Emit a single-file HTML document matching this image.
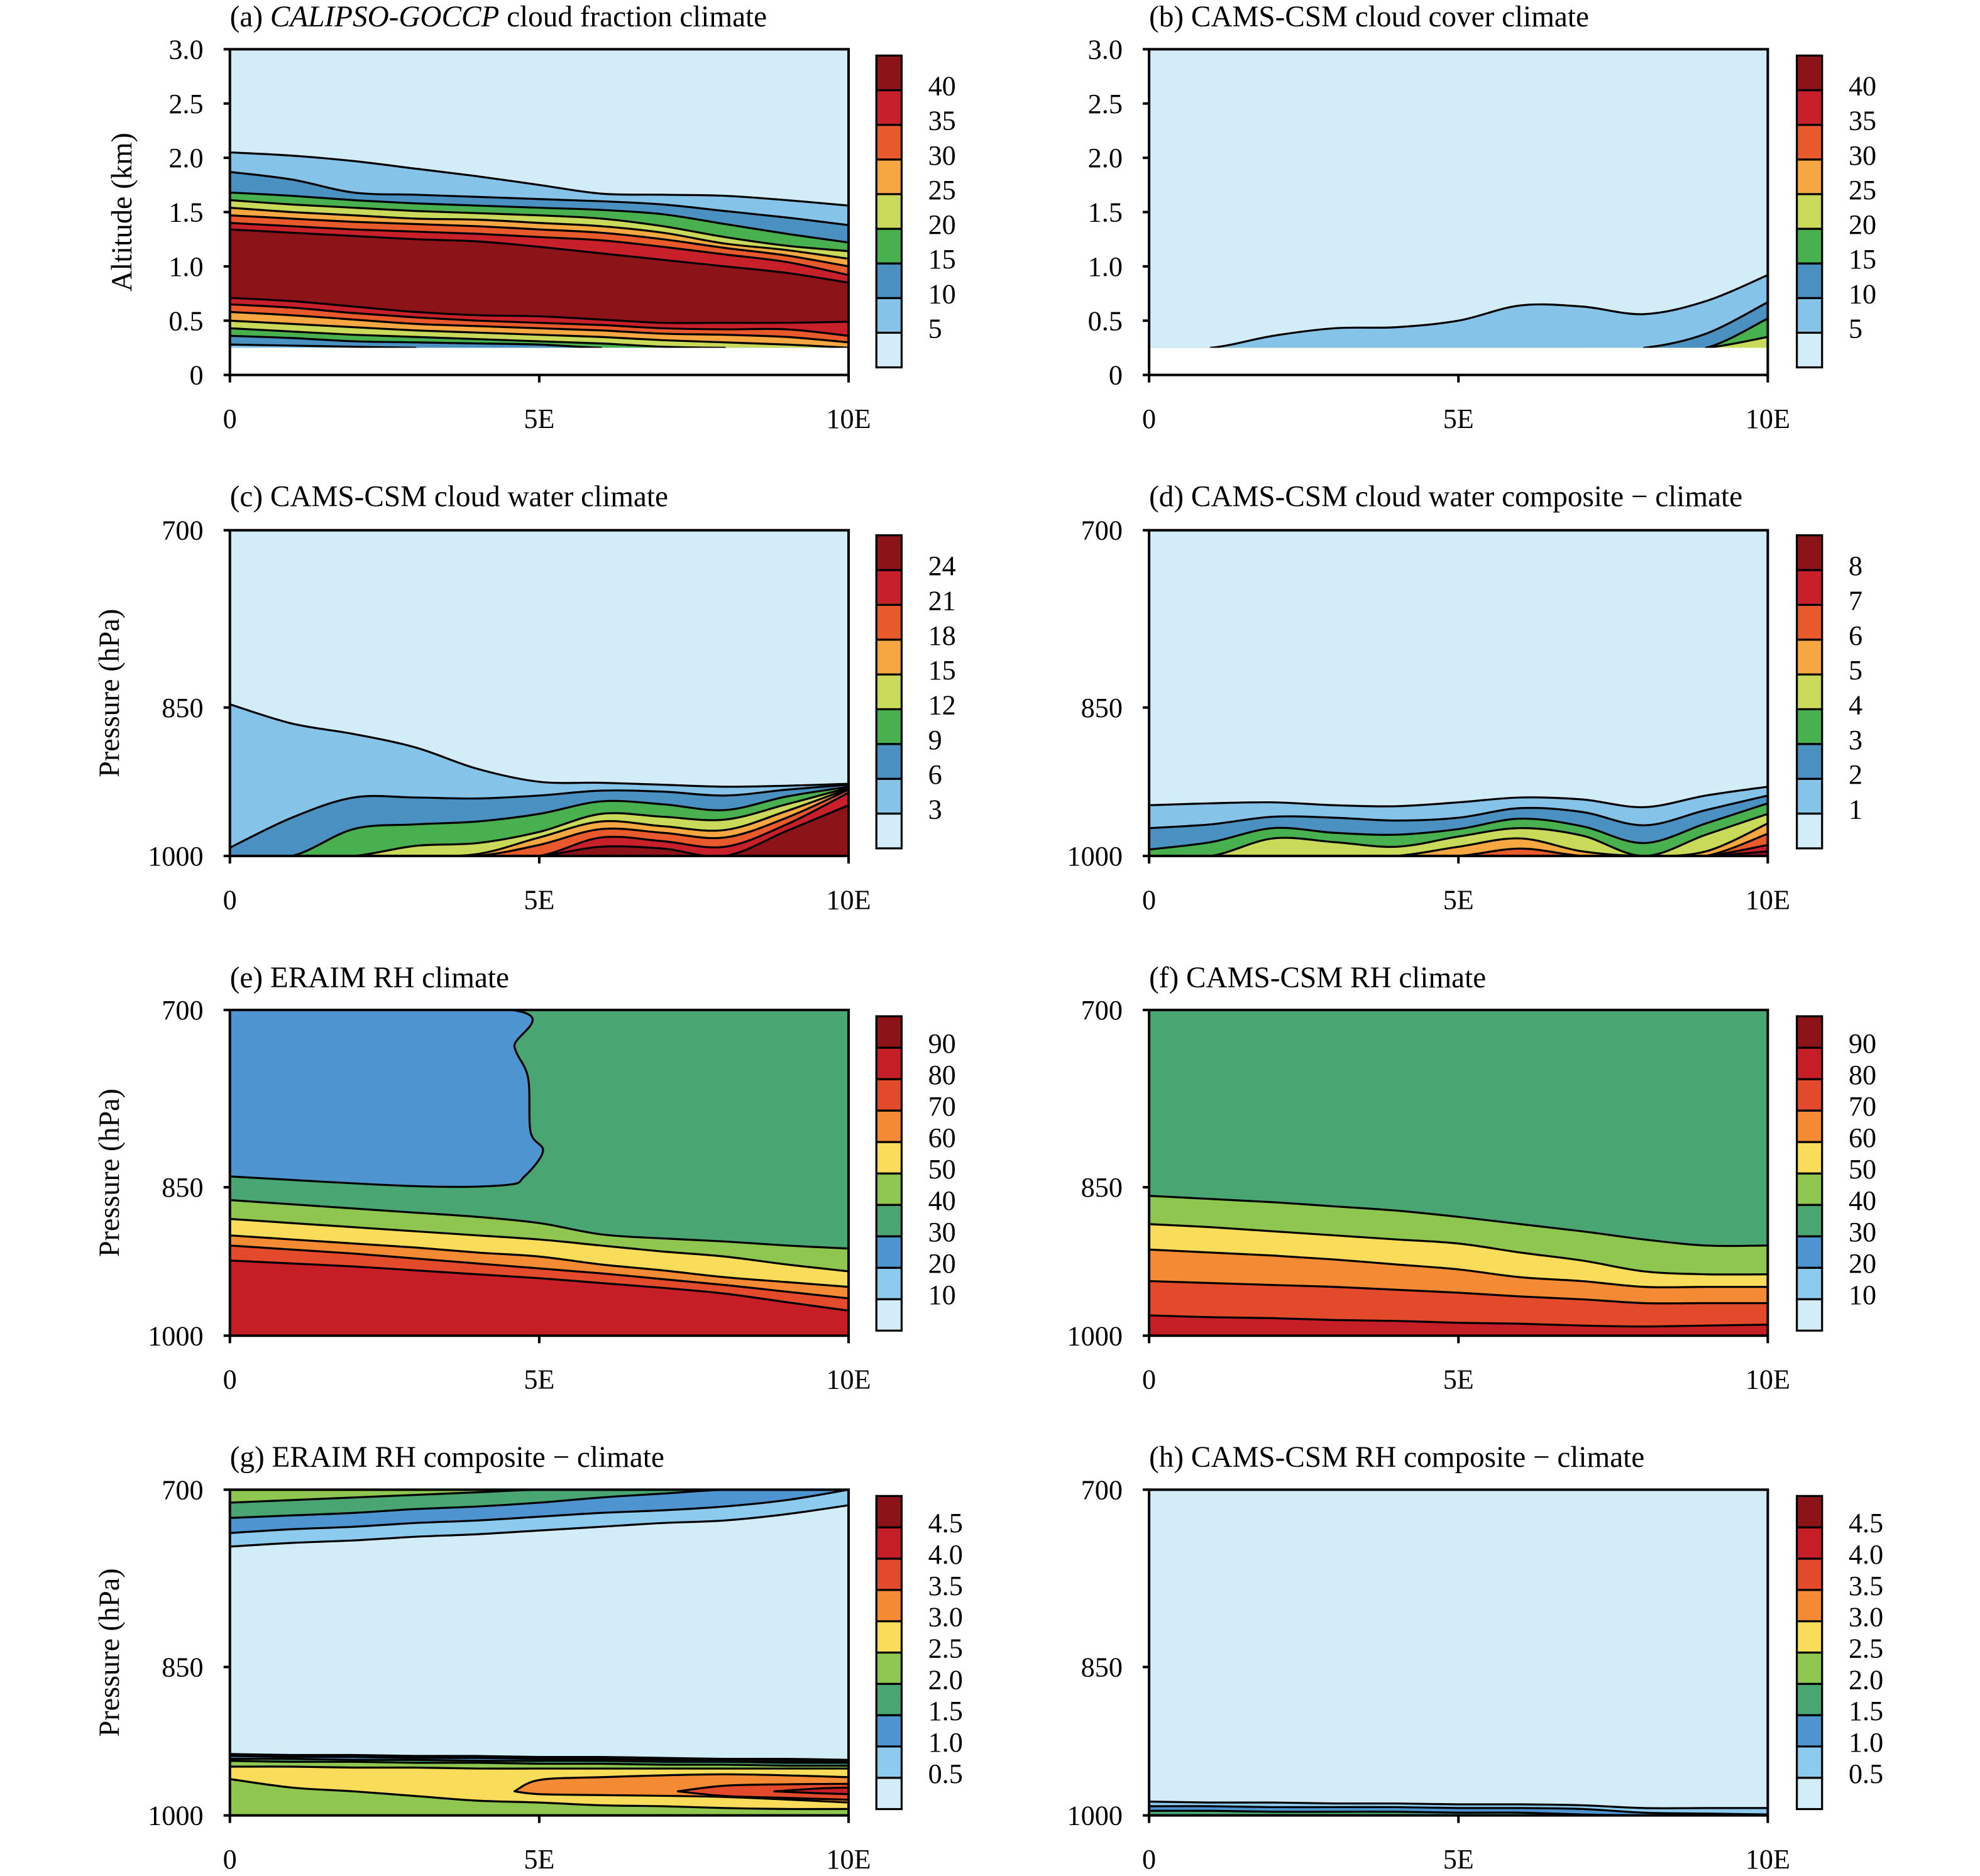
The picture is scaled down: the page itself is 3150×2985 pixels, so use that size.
<!DOCTYPE html>
<html><head><meta charset="utf-8"><title>Cloud and RH cross-sections</title>
<style>html,body{margin:0;padding:0;background:#fff;}svg{display:block;}</style></head>
<body>
<svg id="fig" xmlns="http://www.w3.org/2000/svg" width="3150" height="2985" viewBox="0 0 1568 1486" font-family="'Liberation Serif', serif"></svg>
<script>
// ---- shared data ----
const LON = [0,1,2,3,4,5,6,7,8,9,10];
const CF_COLORS = ['#d3edf8','#85c4e8','#4a90c0','#48b04f','#c9d95a','#f6a742','#e85a2c','#c8202a','#8c1419'];
const RH_COLORS = ['#d3edf8','#8ccbee','#4e94d0','#49a673','#8ec650','#f9dc5a','#f58a35','#e24a2b','#c51e26','#8c1419'];
const CB_A = ['5','10','15','20','25','30','35','40'];
const CB_C = ['3','6','9','12','15','18','21','24'];
const CB_D = ['1','2','3','4','5','6','7','8'];
const CB_RH = ['10','20','30','40','50','60','70','80','90'];
const CB_G = ['0.5','1.0','1.5','2.0','2.5','3.0','3.5','4.0','4.5'];
const ALT_TICKS = [0,0.5,1.0,1.5,2.0,2.5,3.0];
const ALT_TICK_LABELS = ['0','0.5','1.0','1.5','2.0','2.5','3.0'];
const P_TICKS = [700,850,1000];
const X_TICKS = [0,5,10];
const X_TICK_LABELS = ['0','5E','10E'];

// (a) altitude km
const aC5  = [2.05,2.02,1.97,1.90,1.83,1.75,1.67,1.66,1.65,1.61,1.56];
const aC10 = [1.87,1.80,1.68,1.66,1.64,1.62,1.60,1.57,1.51,1.45,1.38];
const aC15 = [1.68,1.65,1.61,1.58,1.56,1.54,1.52,1.48,1.39,1.30,1.22];
const aC20 = [1.61,1.57,1.54,1.51,1.49,1.47,1.44,1.37,1.27,1.19,1.14];
const aC25 = [1.54,1.50,1.47,1.44,1.43,1.40,1.37,1.31,1.21,1.15,1.07];
const aC30 = [1.47,1.44,1.41,1.39,1.37,1.34,1.31,1.25,1.17,1.10,1.00];
const aC35 = [1.40,1.37,1.34,1.32,1.30,1.27,1.24,1.18,1.11,1.04,0.92];
const aC40 = [1.34,1.31,1.28,1.25,1.23,1.18,1.12,1.06,1.00,0.94,0.85];
const aL40 = [0.71,0.68,0.63,0.58,0.55,0.54,0.51,0.48,0.48,0.48,0.49];
const aL35 = [0.65,0.62,0.57,0.53,0.50,0.48,0.46,0.43,0.42,0.42,0.36];
const aL30 = [0.58,0.55,0.51,0.47,0.45,0.43,0.41,0.38,0.37,0.35,0.30];
const aL25 = [0.50,0.47,0.44,0.41,0.39,0.37,0.35,0.32,0.30,0.28,0.25];
const aL20 = [0.43,0.40,0.37,0.35,0.33,0.31,0.29,0.26,0.25,0.25,0.25];
const aL15 = [0.36,0.34,0.31,0.30,0.29,0.28,0.25,0.25,0.25,0.25,0.25];
const aL10 = [0.28,0.27,0.26,0.25,0.25,0.25,0.25,0.25,0.25,0.25,0.25];
// (b)
const bC5  = [0.25,0.25,0.36,0.43,0.44,0.50,0.64,0.63,0.56,0.68,0.92];
const bC10 = [0.25,0.25,0.25,0.25,0.25,0.25,0.25,0.25,0.25,0.38,0.67];
const bC15 = [0.25,0.25,0.25,0.25,0.25,0.25,0.25,0.25,0.25,0.25,0.52];
const bC20 = [0.25,0.25,0.25,0.25,0.25,0.25,0.25,0.25,0.25,0.25,0.35];
// (c) hPa
const cC3  = [847,865,875,888,909,922,923,925,927,926,924];
const cC6  = [991,959,938,938,939,936,931,932,936,930,925];
const cC9  = [1000,1000,971,966,963,955,942,945,951,937,927];
const cC12 = [1000,1000,1000,989,986,974,955,958,961,945,928];
const cC15 = [1000,1000,1000,1000,998,980,963,968,972,952,929];
const cC18 = [1000,1000,1000,1000,1000,988,971,975,980,959,930];
const cC21 = [1000,1000,1000,1000,1000,1000,980,984,990,966,933];
const cC24 = [1000,1000,1000,1000,1000,1000,990,992,1000,973,946];
// (d)
const dC1 = [946,944,943,946,947,943,938,940,948,936,927];
const dC2 = [970,966,958,959,962,959,949,953,967,951,936];
const dC3 = [993,985,970,975,977,971,960,968,986,965,944];
const dC4 = [1000,1000,981,985,990,979,970,978,1000,977,955];
const dC5 = [1000,1000,1000,1000,1000,990,981,995,1000,995,965];
const dC6 = [1000,1000,1000,1000,1000,1000,992,1000,1000,1000,976];
const dC7 = [1000,1000,1000,1000,1000,1000,1000,1000,1000,1000,988];
const dC8 = [1000,1000,1000,1000,1000,1000,1000,1000,1000,1000,995];
// (e)
const eBlobLon = [0,4.55,4.6,4.82,4.86,5.06,4.76,4.45,3.0,0];
const eBlobP   = [700,700,729,754,800,817,840,848,849,840];
const eC40 = [862,866,870,874,878,884,895,899,902,906,909];
const eC50 = [880,884,888,892,896,900,906,912,917,925,932];
const eC60 = [896,900,904,908,913,917,925,931,938,943,948];
const eC70 = [906,910,914,919,924,929,934,940,946,953,960];
const eC80 = [921,924,927,931,935,939,944,949,955,964,973];
// (f)
const fC40 = [858,861,864,868,872,878,885,892,900,906,906];
const fC50 = [885,888,892,896,900,904,913,921,932,935,935];
const fC60 = [910,913,916,920,925,930,938,942,948,948,948];
const fC70 = [942,944,946,948,951,954,958,961,965,965,965];
const fC80 = [978,980,981,983,984,986,987,989,990,989,988];
// (g)
const gC20 = [710,708,706,704,702,700,700,700,700,700,700];
const gC15 = [722,720,718,715,713,710,706,703,700,700,700];
const gC10 = [734,731,729,726,724,721,718,716,713,708,700];
const gC05 = [745,742,740,737,735,732,729,726,724,719,712];
const gK1 = [935,936,936,937,937,938,938,939,940,940,941];
const gK2 = [937,938,938,939,939,940,940,941,942,942,943];
const gK3 = [940,940,941,941,942,942,942,943,943,944,944];
const gK4 = [942,943,943,944,944,945,945,946,946,947,947];
const gK5 = [948,948,949,949,950,950,950,950,950,950,950];
const gTongueLon = [4.6,5,6,8,10];
const gTongueTop = [974,962,959,956,959];
const gTongueBot = [974,977,978,980,986];
const gRedLon = [7.24,8,9,10];
const gRedTop = [974,968,966.5,966];
const gRedBot = [974,979,981,983];
const gDarkLon = [8.8,9.5,10];
const gDarkTop = [974,971,970];
const gDarkBot = [974,976,977];
const gGreen = [961,970,974,979,984,986,989,990,992,993,993];
// (h)
const hC05 = [985,986,986,987,987,988,988,989,992,992,992];
const hC10 = [990,990,991,991,991,992,992,993,997,998,999];
const hC15 = [995,995,996,996,996,997,997,999,1000,1000,1000];

// ---- drawing ----
const NS = 'http://www.w3.org/2000/svg';
const svg = document.getElementById('fig');
const defs = document.createElementNS(NS,'defs');
svg.appendChild(defs);
let clipId = 0;
function mk(tag, attrs, parent){
  const e = document.createElementNS(NS, tag);
  for (const k in attrs) e.setAttribute(k, attrs[k]);
  (parent||svg).appendChild(e);
  return e;
}
function makeAxes(x0,y0,w,h,type){
  const xs = lon => x0 + w*lon/10;
  let ys;
  if (type==='alt') ys = v => y0 + h*(1 - v/3);
  else ys = p => y0 + h*Math.log(p/700)/Math.log(1000/700);
  clipId++;
  const cp = mk('clipPath',{id:'clip'+clipId},defs);
  mk('rect',{x:x0,y:y0,width:w,height:h},cp);
  return {x0,y0,w,h,type,xs,ys,clip:'url(#clip'+clipId+')',floor: type==='alt'?0.25:1000, ceil: type==='alt'?3:700};
}
function curvePts(ax, lons, vals){ return lons.map((l,i)=>[ax.xs(l), ax.ys(vals[i])]); }
function seg(pts,i){
  const p0 = pts[Math.max(i-1,0)], p1 = pts[i], p2 = pts[i+1], p3 = pts[Math.min(i+2,pts.length-1)];
  const c1 = [p1[0]+(p2[0]-p0[0])/6, p1[1]+(p2[1]-p0[1])/6];
  const c2 = [p2[0]-(p3[0]-p1[0])/6, p2[1]-(p3[1]-p1[1])/6];
  return ' C'+c1[0].toFixed(2)+','+c1[1].toFixed(2)+' '+c2[0].toFixed(2)+','+c2[1].toFixed(2)+' '+p2[0].toFixed(2)+','+p2[1].toFixed(2);
}
function smooth(pts){
  let d = 'M'+pts[0][0].toFixed(2)+','+pts[0][1].toFixed(2);
  for (let i=0;i<pts.length-1;i++) d += seg(pts,i);
  return d;
}
function fillBelow(g, ax, vals, color, name){
  const pts = curvePts(ax, LON, vals);
  const yb = ax.ys(ax.type==='alt'?0.25:1000) + 3;
  let d = smooth(pts);
  d += ' L'+ax.xs(10)+','+yb+' L'+ax.xs(0)+','+yb+' Z';
  const p = mk('path',{d:d,fill:color,stroke:'none'},g);
  
  
}
function strokeCurve(g, ax, vals, name){
  const pts = curvePts(ax, LON, vals);
  let d = '';
  const atEdge = v => Math.abs(v-ax.floor)<1e-6 || Math.abs(v-ax.ceil)<1e-6;
  for (let i=0;i<vals.length-1;i++){
    if (atEdge(vals[i]) && atEdge(vals[i+1])) continue;
    d += 'M'+pts[i][0].toFixed(2)+','+pts[i][1].toFixed(2)+seg(pts,i)+' ';
  }
  if (!d) return;
  const p = mk('path',{d:d,fill:'none',stroke:'#000','stroke-width':1.6,'stroke-linejoin':'round','stroke-linecap':'round'},g);
  
  
}
function polyBand(g, ax, lons, top, bot, color, name){
  const t = lons.map((l,i)=>[ax.xs(l),ax.ys(top[i])]);
  const b = lons.map((l,i)=>[ax.xs(l),ax.ys(bot[i])]).reverse();
  let d = smooth(t);
  const db = smooth(b);
  d += ' L'+db.slice(1)+' Z';
  const p = mk('path',{d:d,fill:color,stroke:'#000','stroke-width':1.6,'stroke-linejoin':'round'},g);
  
  
}
function layers(ax, list, name){
  const g = mk('g',{'clip-path':ax.clip});
  
  
  list.forEach((L,i)=>fillBelow(g, ax, L[0], L[1], name+'-level-'+i));
  return g;
}
function strokes(ax, g, list, name){ list.forEach((L,i)=>strokeCurve(g, ax, L[0], name+'-level-'+i)); }
function text(str, x, y, size, anchor, name, parent, extra){
  const t = mk('text', Object.assign({x:x,y:y,'font-size':size,'text-anchor':anchor||'start',fill:'#000'}, extra||{}), parent);
  t.textContent = str;
  
  
  return t;
}
function frame(ax, name, yTicks, yLabels){
  const g = mk('g',{});
  
  
  const r = mk('rect',{x:ax.x0,y:ax.y0,width:ax.w,height:ax.h,fill:'none',stroke:'#000','stroke-width':2},g);
  
  
  const by = ax.y0+ax.h;
  X_TICKS.forEach((v,i)=>{
    const x = ax.xs(v);
    const tk = mk('line',{x1:x,y1:by,x2:x,y2:by+6,stroke:'#000','stroke-width':2},g);
    
    
    text(X_TICK_LABELS[i], x, by+42, 22, 'middle', 'x-tick-label', g);
  });
  yTicks.forEach((v,i)=>{
    const y = ax.type==='alt' ? ax.y0 + ax.h*(1 - v/3) : ax.ys(v);
    const tk = mk('line',{x1:ax.x0-5,y1:y,x2:ax.x0,y2:y,stroke:'#000','stroke-width':2},g);
    
    
    text(yLabels[i], ax.x0-21, y+7.5, 22, 'end', 'y-tick-label', g);
  });
}
function colorbar(x, y0, y1, colors, labels, name){
  const g = mk('g',{});
  
  
  const n = colors.length, hh = (y1-y0)/n;
  colors.forEach((c,i)=>{
    const r = mk('rect',{x:x,y:y1-(i+1)*hh,width:20,height:hh,fill:c,stroke:'#000','stroke-width':1.6},g);
    
    
  });
  labels.forEach((l,i)=>{
    text(l, x+41, y1-(i+1)*hh+4, 22, 'start', name+'-label', g);
  });
}
function title(parts, x, y, name){
  const t = mk('text',{x:x,y:y,'font-size':23.5,fill:'#000'});
  
  
  parts.forEach(p=>{ const s = mk('tspan', p[1]?{'font-style':'italic'}:{}, t); s.textContent = p[0]; });
}
const pLabels = P_TICKS.map(String);
const LX=182, RX=910, PW=490, PH=258;
const ROWS=[39,420,800,1180];
const CB=[[44,291],[424,672],[805,1054],[1185,1433]];

// (a)
{
  const ax = makeAxes(LX,ROWS[0],PW,PH,'alt');
  const bg = mk('rect',{x:LX,y:ROWS[0],width:PW,height:PH,fill:CF_COLORS[0]});
  
  
  const list = [[aC5,CF_COLORS[1]],[aC10,CF_COLORS[2]],[aC15,CF_COLORS[3]],[aC20,CF_COLORS[4]],[aC25,CF_COLORS[5]],[aC30,CF_COLORS[6]],[aC35,CF_COLORS[7]],[aC40,CF_COLORS[8]],
    [aL40,CF_COLORS[7]],[aL35,CF_COLORS[6]],[aL30,CF_COLORS[5]],[aL25,CF_COLORS[4]],[aL20,CF_COLORS[3]],[aL15,CF_COLORS[2]],[aL10,CF_COLORS[1]]];
  const g = layers(ax, list, 'panel-a');
  strokes(ax, g, list, 'panel-a');
  const w = mk('rect',{x:LX,y:ax.ys(0.25),width:PW,height:ax.ys(0)-ax.ys(0.25),fill:'#fff'});
  
  
  frame(ax,'panel-a',ALT_TICKS,ALT_TICK_LABELS);
  colorbar(694,CB[0][0],CB[0][1],CF_COLORS,CB_A,'colorbar-a');
  title([['(a) ',0],['CALIPSO-GOCCP',1],[' cloud fraction climate',0]],182,21,'title-a');
  text('Altitude (km)',0,0,23,'middle','y-axis-title-a',svg,{transform:'translate(104,168) rotate(-90)'});
}
// (b)
{
  const ax = makeAxes(RX,ROWS[0],PW,PH,'alt');
  const bg = mk('rect',{x:RX,y:ROWS[0],width:PW,height:PH,fill:CF_COLORS[0]});
  
  
  const list = [[bC5,CF_COLORS[1]],[bC10,CF_COLORS[2]],[bC15,CF_COLORS[3]],[bC20,CF_COLORS[4]]];
  const g = layers(ax, list, 'panel-b');
  strokes(ax, g, list, 'panel-b');
  const w = mk('rect',{x:RX,y:ax.ys(0.25),width:PW,height:ax.ys(0)-ax.ys(0.25),fill:'#fff'});
  
  
  frame(ax,'panel-b',ALT_TICKS,ALT_TICK_LABELS);
  colorbar(1423,CB[0][0],CB[0][1],CF_COLORS,CB_A,'colorbar-b');
  title([['(b) CAMS-CSM cloud cover climate',0]],910,21,'title-b');
}
// (c)
{
  const ax = makeAxes(LX,ROWS[1],PW,PH,'p');
  const bg = mk('rect',{x:LX,y:ROWS[1],width:PW,height:PH,fill:CF_COLORS[0]});
  
  
  const list = [[cC3,CF_COLORS[1]],[cC6,CF_COLORS[2]],[cC9,CF_COLORS[3]],[cC12,CF_COLORS[4]],[cC15,CF_COLORS[5]],[cC18,CF_COLORS[6]],[cC21,CF_COLORS[7]],[cC24,CF_COLORS[8]]];
  const g = layers(ax, list, 'panel-c');
  strokes(ax, g, list, 'panel-c');
  frame(ax,'panel-c',P_TICKS,pLabels);
  colorbar(694,CB[1][0],CB[1][1],CF_COLORS,CB_C,'colorbar-c');
  title([['(c) CAMS-CSM cloud water climate',0]],182,401,'title-c');
  text('Pressure (hPa)',0,0,23,'middle','y-axis-title-c',svg,{transform:'translate(94,549) rotate(-90)'});
}
// (d)
{
  const ax = makeAxes(RX,ROWS[1],PW,PH,'p');
  const bg = mk('rect',{x:RX,y:ROWS[1],width:PW,height:PH,fill:CF_COLORS[0]});
  
  
  const list = [[dC1,CF_COLORS[1]],[dC2,CF_COLORS[2]],[dC3,CF_COLORS[3]],[dC4,CF_COLORS[4]],[dC5,CF_COLORS[5]],[dC6,CF_COLORS[6]],[dC7,CF_COLORS[7]],[dC8,CF_COLORS[8]]];
  const g = layers(ax, list, 'panel-d');
  strokes(ax, g, list, 'panel-d');
  frame(ax,'panel-d',P_TICKS,pLabels);
  colorbar(1423,CB[1][0],CB[1][1],CF_COLORS,CB_D,'colorbar-d');
  title([['(d) CAMS-CSM cloud water composite \u2212 climate',0]],910,401,'title-d');
}
// (e)
{
  const ax = makeAxes(LX,ROWS[2],PW,PH,'p');
  const bg = mk('rect',{x:LX,y:ROWS[2],width:PW,height:PH,fill:RH_COLORS[3]});
  
  
  const blob = eBlobLon.map((l,i)=>[ax.xs(l),ax.ys(eBlobP[i])]);
  const bp = mk('path',{d:smooth(blob),fill:RH_COLORS[2],stroke:'#000','stroke-width':1.6,'stroke-linejoin':'round','clip-path':ax.clip});
  
  
  const list = [[eC40,RH_COLORS[4]],[eC50,RH_COLORS[5]],[eC60,RH_COLORS[6]],[eC70,RH_COLORS[7]],[eC80,RH_COLORS[8]]];
  const g = layers(ax, list, 'panel-e');
  strokes(ax, g, list, 'panel-e');
  frame(ax,'panel-e',P_TICKS,pLabels);
  colorbar(694,CB[2][0],CB[2][1],RH_COLORS,CB_RH,'colorbar-e');
  title([['(e) ERAIM RH climate',0]],182,782,'title-e');
  text('Pressure (hPa)',0,0,23,'middle','y-axis-title-e',svg,{transform:'translate(94,929) rotate(-90)'});
}
// (f)
{
  const ax = makeAxes(RX,ROWS[2],PW,PH,'p');
  const bg = mk('rect',{x:RX,y:ROWS[2],width:PW,height:PH,fill:RH_COLORS[3]});
  
  
  const list = [[fC40,RH_COLORS[4]],[fC50,RH_COLORS[5]],[fC60,RH_COLORS[6]],[fC70,RH_COLORS[7]],[fC80,RH_COLORS[8]]];
  const g = layers(ax, list, 'panel-f');
  strokes(ax, g, list, 'panel-f');
  frame(ax,'panel-f',P_TICKS,pLabels);
  colorbar(1423,CB[2][0],CB[2][1],RH_COLORS,CB_RH,'colorbar-f');
  title([['(f) CAMS-CSM RH climate',0]],910,782,'title-f');
}
// (g)
{
  const ax = makeAxes(LX,ROWS[3],PW,PH,'p');
  const bg = mk('rect',{x:LX,y:ROWS[3],width:PW,height:PH,fill:RH_COLORS[4]});
  
  
  const list = [[gC20,RH_COLORS[3]],[gC15,RH_COLORS[2]],[gC10,RH_COLORS[1]],[gC05,RH_COLORS[0]],
    [gK1,RH_COLORS[1]],[gK2,RH_COLORS[2]],[gK3,RH_COLORS[3]],[gK4,RH_COLORS[4]],[gK5,RH_COLORS[5]]];
  const g = layers(ax, list, 'panel-g');
  strokes(ax, g, list, 'panel-g');
  polyBand(g, ax, gTongueLon, gTongueTop, gTongueBot, RH_COLORS[6], 'panel-g-tongue-3');
  polyBand(g, ax, gRedLon, gRedTop, gRedBot, RH_COLORS[7], 'panel-g-tongue-3p5');
  polyBand(g, ax, gDarkLon, gDarkTop, gDarkBot, RH_COLORS[8], 'panel-g-tongue-4');
  fillBelow(g, ax, gGreen, RH_COLORS[4], 'panel-g-low-green');
  strokeCurve(g, ax, gGreen, 'panel-g-low-green');
  frame(ax,'panel-g',P_TICKS,pLabels);
  colorbar(694,CB[3][0],CB[3][1],RH_COLORS,CB_G,'colorbar-g');
  title([['(g) ERAIM RH composite \u2212 climate',0]],182,1162,'title-g');
  text('Pressure (hPa)',0,0,23,'middle','y-axis-title-g',svg,{transform:'translate(94,1309) rotate(-90)'});
}
// (h)
{
  const ax = makeAxes(RX,ROWS[3],PW,PH,'p');
  const bg = mk('rect',{x:RX,y:ROWS[3],width:PW,height:PH,fill:RH_COLORS[0]});
  
  
  const list = [[hC05,RH_COLORS[1]],[hC10,RH_COLORS[2]],[hC15,RH_COLORS[3]]];
  const g = layers(ax, list, 'panel-h');
  strokes(ax, g, list, 'panel-h');
  frame(ax,'panel-h',P_TICKS,pLabels);
  colorbar(1423,CB[3][0],CB[3][1],RH_COLORS,CB_G,'colorbar-h');
  title([['(h) CAMS-CSM RH composite \u2212 climate',0]],910,1162,'title-h');
}
</script>
</body></html>
